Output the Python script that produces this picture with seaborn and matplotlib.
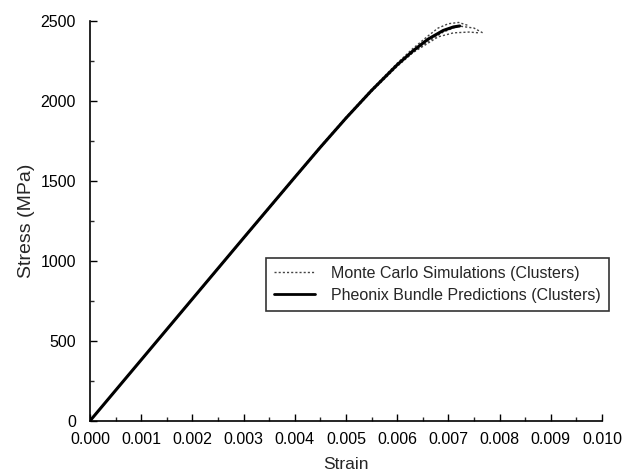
import numpy as np
import pandas as pd
import seaborn as sns
import matplotlib.pyplot as plt
from matplotlib.lines import Line2D
from matplotlib.ticker import MultipleLocator

# strain / stress points
strain_pb = [0.0, 0.001, 0.002, 0.003, 0.004, 0.0045, 0.005, 0.0055, 0.006, 0.0063, 0.0066, 0.0069, 0.0071, 0.00722]
stress_pb = [0, 381, 762, 1143, 1522, 1710, 1892, 2065, 2225, 2310, 2385, 2440, 2462, 2468]

strain_mc1 = [0.0, 0.001, 0.002, 0.003, 0.004, 0.0045, 0.005, 0.0055, 0.006, 0.0063, 0.0066, 0.0068, 0.0070, 0.0072, 0.0074]
stress_mc1 = [0, 382, 764, 1146, 1526, 1715, 1898, 2072, 2235, 2325, 2405, 2455, 2482, 2490, 2470]

strain_mc2 = [0.0, 0.001, 0.002, 0.003, 0.004, 0.0045, 0.005, 0.0055, 0.006, 0.0063, 0.0066, 0.0069, 0.0072, 0.0075, 0.0077]
stress_mc2 = [0, 380, 760, 1140, 1518, 1706, 1888, 2058, 2215, 2300, 2370, 2430, 2468, 2455, 2420]

strain_mc3 = [0.0, 0.001, 0.002, 0.003, 0.004, 0.0045, 0.005, 0.0055, 0.006, 0.0063, 0.0066, 0.0068, 0.0071, 0.0074, 0.0076]
stress_mc3 = [0, 380, 760, 1141, 1520, 1708, 1890, 2062, 2220, 2300, 2360, 2400, 2425, 2430, 2425]

mc = pd.concat([
    pd.DataFrame({'Strain': strain_mc1, 'Stress': stress_mc1, 'run': 1}),
    pd.DataFrame({'Strain': strain_mc2, 'Stress': stress_mc2, 'run': 2}),
    pd.DataFrame({'Strain': strain_mc3, 'Stress': stress_mc3, 'run': 3}),
])
pb = pd.DataFrame({'Strain': strain_pb, 'Stress': stress_pb})

sns.set_style('ticks')
plt.rcParams['font.family'] = ['Liberation Sans', 'DejaVu Sans']

fig = plt.figure(figsize=(6.29, 4.74), dpi=100)
ax = fig.add_axes([0.143, 0.112, 0.814, 0.844])

sns.lineplot(data=mc, x='Strain', y='Stress', units='run', estimator=None,
             color='#444444', linestyle=(0, (1.5, 1.5)), linewidth=1.0, ax=ax, legend=False)
sns.lineplot(data=pb, x='Strain', y='Stress', color='black', linewidth=2.2, ax=ax,
             legend=False, sort=False)

ax.set_xlim(0, 0.010)
ax.set_ylim(0, 2500)
ax.xaxis.set_major_locator(MultipleLocator(0.001))
ax.xaxis.set_minor_locator(MultipleLocator(0.0005))
ax.yaxis.set_major_locator(MultipleLocator(500))
ax.yaxis.set_minor_locator(MultipleLocator(250))
ax.set_xticklabels([f'{v:.3f}' for v in ax.get_xticks()])
ax.tick_params(which='major', direction='in', length=5, width=1, labelsize=11.5, colors='black')
ax.tick_params(which='minor', direction='in', length=3, width=1)
ax.tick_params(axis='x', which='major', pad=8)
ax.tick_params(axis='y', which='major', pad=10)
for s in ['top', 'right']:
    ax.spines[s].set_visible(False)
for s in ['left', 'bottom']:
    ax.spines[s].set_linewidth(1.2)
    ax.spines[s].set_color('black')

ax.set_xlabel('Strain', fontsize=12.5, labelpad=7)
ax.set_ylabel('Stress (MPa)', fontsize=14, labelpad=4)

handles = [
    Line2D([], [], color='#444444', linestyle=(0, (1.5, 1.5)), linewidth=1.0),
    Line2D([], [], color='black', linewidth=2.0),
]
leg = ax.legend(handles, ['Monte Carlo Simulations (Clusters)', 'Pheonix Bundle Predictions (Clusters)'],
                loc='upper left', bbox_to_anchor=(0.343, 0.4075), fontsize=11.5,
                frameon=True, fancybox=False, edgecolor='black', handlelength=2.6,
                borderpad=0.5, borderaxespad=0, labelspacing=0.45, handletextpad=1.0)
leg.get_frame().set_linewidth(1.2)

fig.savefig('out.png', dpi=100)
